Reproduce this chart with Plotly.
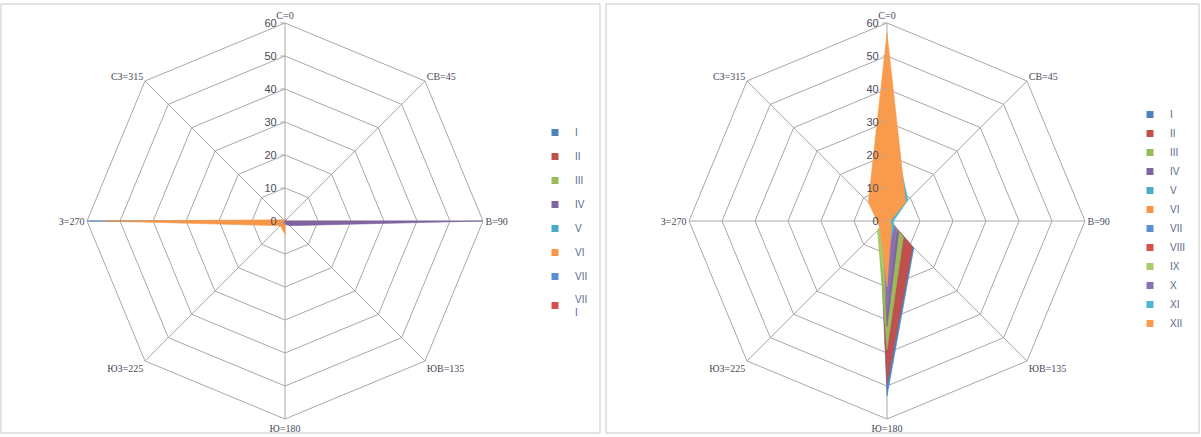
import plotly.graph_objects as go

# Wind direction sectors (compass points with bearings)
directions = ["С=0", "СВ=45", "В=90", "ЮВ=135", "Ю=180", "ЮЗ=225", "З=270", "СЗ=315"]

# Left rose: months I–VIII, repeatability (%) by direction
left_I = [0, 0, 0, 0, 0.5, 0.3, 60, 0]
left_II = [0, 0, 0.5, 0.5, 0.5, 0, 0, 0]
left_III = [0, 0, 0.5, 0.5, 0.5, 0, 0.5, 0]
left_IV = [0, 0, 60, 2, 1, 0, 0, 0]
left_V = [0, 0, 0.5, 0.5, 0.5, 0, 0.5, 0]
left_VI = [0, 0, 0, 0, 4, 2, 55, 0.5]
left_VII = [0.5, 0, 0, 0.5, 1, 0.5, 0, 0]
left_VIII = [0, 0, 0.5, 0.5, 0.5, 0, 0, 0]

# Right rose: months I–XII, repeatability (%) by direction
right_I = [3, 2, 1, 11.5, 53, 3, 1, 2]
right_II = [2, 1, 1, 11, 49, 3, 1, 1]
right_III = [2, 1, 1, 7, 39, 4, 1, 1]
right_IV = [2, 1, 1, 5, 32, 2, 1, 1]
right_V = [3, 2, 1, 3, 20, 2, 1, 2]
right_VI = [4, 2, 1, 2, 12, 2, 2, 3]
right_VII = [5, 3, 1, 3, 14, 2, 2, 3]
right_VIII = [4, 2, 1, 3, 18, 3, 1, 2]
right_IX = [3, 2, 1, 4, 25, 4, 1, 2]
right_X = [3, 2, 1, 4, 28, 2, 1, 2]
right_XI = [35, 9, 2, 3, 10, 2, 1, 3]
right_XII = [57, 8, 1, 2, 20, 3, 3, 8]

left_names = ["I", "II", "III", "IV", "V", "VI", "VII", "VII<br>I"]
right_names = ["I", "II", "III", "IV", "V", "VI", "VII", "VIII", "IX", "X", "XI", "XII"]

left_series = [left_I, left_II, left_III, left_IV, left_V, left_VI, left_VII, left_VIII]
right_series = [right_I, right_II, right_III, right_IV, right_V, right_VI,
                right_VII, right_VIII, right_IX, right_X, right_XI, right_XII]

palette = ["#4F81BD", "#C0504D", "#9BBB59", "#8064A2", "#4BACC6", "#F79646",
           "#5B8FD4", "#D4504C", "#A8CC6A", "#8C6FB0", "#4FB5D0", "#F99B4C"]

fig = go.Figure()


def add_rose(series, names, subplot, legend):
    for i, (vals, name) in enumerate(zip(series, names)):
        col = palette[i]
        fig.add_trace(go.Scatterpolar(
            r=vals + vals[:1], theta=directions + directions[:1],
            mode="lines", fill="toself", fillcolor=col,
            line=dict(color=col, width=0.6),
            subplot=subplot, showlegend=False, hoverinfo="skip"))
        # legend entry with a small square swatch
        fig.add_trace(go.Scatterpolar(
            r=[None], theta=[directions[0]], mode="markers",
            marker=dict(symbol="square", size=7, color=col),
            name=name, subplot=subplot, legend=legend,
            legendgroup=f"{subplot}_{i}", showlegend=True))


add_rose(left_series, left_names, "polar", "legend")
add_rose(right_series, right_names, "polar2", "legend2")

grid = "#a8a8a8"
label_col = "#4a4a5a"


def polar_layout(xdom):
    return dict(
        domain=dict(x=xdom, y=[18 / 437, 414 / 437]),
        gridshape="linear",
        bgcolor="white",
        radialaxis=dict(
            range=[0, 60], dtick=10, angle=90, tickangle=90,
            showline=False, gridcolor=grid, gridwidth=1,
            ticks="outside", ticklen=4, tickcolor=grid,
            side="counterclockwise",
            tickfont=dict(family="Liberation Sans", size=11, color=label_col)),
        angularaxis=dict(
            rotation=90, direction="clockwise", type="category",
            categoryarray=directions,
            showline=True, linecolor=grid, linewidth=1,
            gridcolor=grid, gridwidth=1, ticks="",
            tickfont=dict(family="Liberation Serif", size=10, color=label_col)),
    )


fig.update_layout(
    width=1201, height=437,
    margin=dict(l=0, r=0, t=0, b=0),
    paper_bgcolor="white",
    polar=polar_layout([87 / 1201, 483 / 1201]),
    polar2=polar_layout([689 / 1201, 1085 / 1201]),
    legend=dict(x=535 / 1201, y=(437 - 118) / 437, xanchor="left", yanchor="top",
                font=dict(family="Liberation Sans", size=10, color="#5a6a8a"),
                itemwidth=30, tracegroupgap=5, bgcolor="rgba(0,0,0,0)"),
    legend2=dict(x=1130 / 1201, y=(437 - 100) / 437, xanchor="left", yanchor="top",
                 font=dict(family="Liberation Sans", size=10, color="#5a6a8a"),
                 itemwidth=30, tracegroupgap=0, bgcolor="rgba(0,0,0,0)"),
    shapes=[
        dict(type="rect", xref="paper", yref="paper",
             x0=1 / 1201, x1=600 / 1201, y0=(437 - 433) / 437, y1=(437 - 4) / 437,
             line=dict(color="#c8c8c8", width=1)),
        dict(type="rect", xref="paper", yref="paper",
             x0=606 / 1201, x1=1199 / 1201, y0=(437 - 433) / 437, y1=(437 - 4) / 437,
             line=dict(color="#c8c8c8", width=1)),
    ],
)

fig.write_html("out.html")
